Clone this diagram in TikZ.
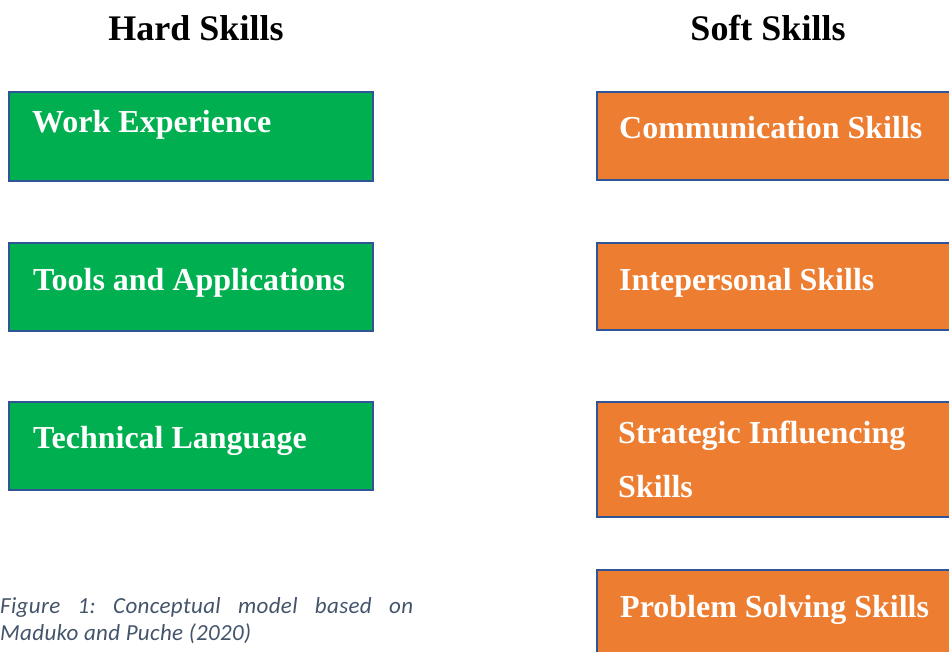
\documentclass[tikz,border=0pt]{standalone}
\usepackage{fontspec}
\setmainfont{Liberation Serif}
\newfontfamily\capfont[LetterSpace=1.5]{Carlito}
\definecolor{hardgreen}{HTML}{00B050}
\definecolor{softorange}{HTML}{ED7D31}
\definecolor{edgeblue}{HTML}{2F5597}
\definecolor{captiongray}{HTML}{44546A}
\begin{document}
\frenchspacing
\begin{tikzpicture}[x=1pt,y=-1pt,
  hardbox/.style={fill=hardgreen,draw=edgeblue,line width=2.5pt},
  softbox/.style={fill=softorange,draw=edgeblue,line width=2.5pt},
  boxtext/.style={anchor=base west,inner sep=0pt,text=white,font=\fontsize{32}{54}\selectfont\bfseries},
  headtext/.style={anchor=base,inner sep=0pt,font=\fontsize{36}{40}\selectfont\bfseries},
  captext/.style={anchor=base west,inner sep=0pt,text=captiongray,font=\capfont\itshape\fontsize{23}{24}\selectfont}]
\useasboundingbox (0,0) rectangle (949,652);
\clip (0,0) rectangle (949,652);

% column headings
\node[headtext] (hard) at (196,41) {Hard Skills};
\node[headtext] (soft) at (768,41) {Soft Skills};

% hard skills
\draw[hardbox] (9,92) rectangle (373,181);
\node[boxtext] (h1) at (32,133) {Work Experience};
\draw[hardbox] (9,243) rectangle (373,331);
\node[boxtext] (h2) at (33,290) {Tools and Applications};
\draw[hardbox] (9,402) rectangle (373,490);
\node[boxtext] (h3) at (33,448) {Technical Language};

% soft skills (boxes run past the right edge)
\draw[softbox] (597,92) rectangle (970,180);
\node[boxtext] (s1) at (619,139) {Communication Skills};
\draw[softbox] (597,243) rectangle (970,330);
\node[boxtext] (s2) at (619,290) {Intepersonal Skills};
\draw[softbox] (597,402) rectangle (970,517);
\node[boxtext] (s3a) at (618,443) {Strategic Influencing};
\node[boxtext] (s3b) at (618,497) {Skills};
\draw[softbox] (597,570) rectangle (970,680);
\node[boxtext] (s4) at (620,617) {Problem Solving Skills};

% caption
\node[captext] (cap1) at (0,613)
  {\makebox[413pt][s]{Figure 1: Conceptual model based on}};
\node[captext] (cap2) at (0,640)
  {Maduko and Puche (2020)};
\end{tikzpicture}
\end{document}
